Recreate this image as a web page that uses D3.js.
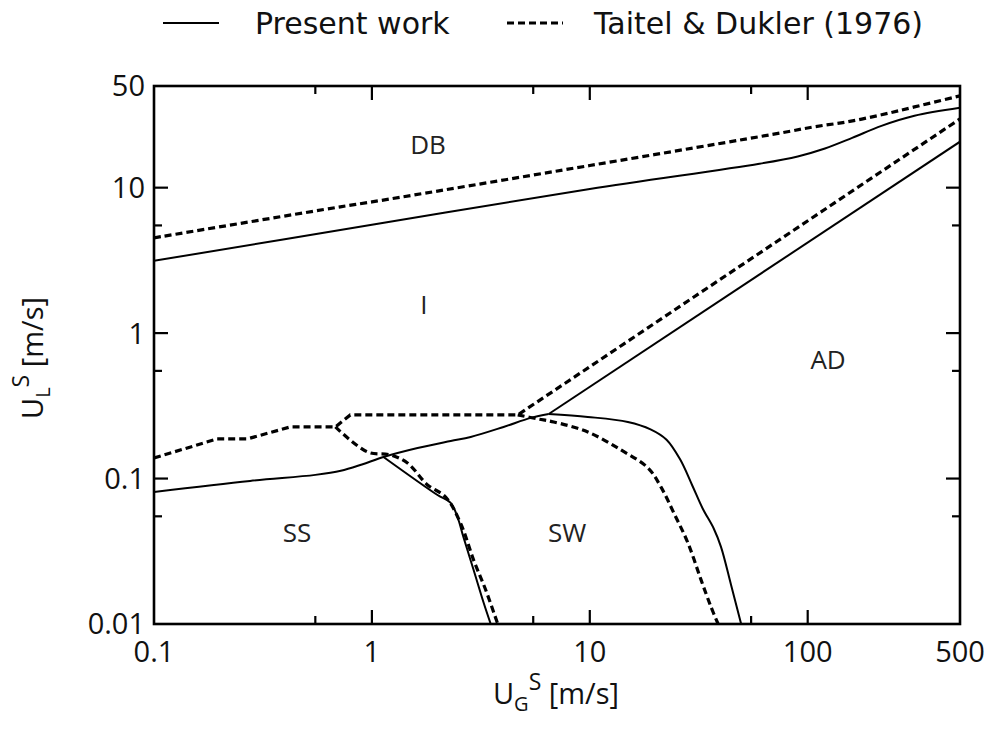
<!DOCTYPE html>
<html>
<head>
<meta charset="utf-8">
<script src="https://cdn.jsdelivr.net/npm/d3@7"></script>
<style>
  html, body { margin: 0; padding: 0; background: #fff; }
  svg { display: block; }
</style>
</head>
<body>
<svg id="chart" width="992" height="731"></svg>
<script>
// Flow-pattern map: superficial gas velocity vs superficial liquid velocity (log-log)

// Axis ticks
const xTickLabels = [0.1, 1, 10, 100, 500];
const xMajorTicks = [1, 10, 100];
const xMinorTicks = [0.55, 5.5, 55];
const yTickLabels = [0.01, 0.1, 1, 10, 50];
const yMajorTicks = [0.1, 1, 10];
const yMinorTicks = [0.055, 0.55, 5.5];

// Present work boundaries  [U_G^S, U_L^S]
const presentDB = [[0.1, 3.14], [1, 5.55], [10, 9.8], [60, 14.6], [90, 16.4], [120, 18.6], [160, 22.0], [218, 26.6], [309, 31.2], [500, 35.4]];
const presentAD = [[6.48, 0.278], [500, 20.7]];
const presentSS = [[0.1, 0.0809], [0.276, 0.0963], [0.55, 0.1060], [0.72, 0.1130], [0.90, 0.1250], [1.13, 0.1408], [1.62, 0.1624], [2.30, 0.1814], [2.84, 0.1932], [4.02, 0.2264], [5.36, 0.2612], [6.48, 0.278]];
const presentSW = [[6.48, 0.278], [9.79, 0.2653], [14.95, 0.245], [19.0, 0.218], [22.5, 0.185], [26.0, 0.135], [29.5, 0.090], [33.0, 0.062], [37.0, 0.0455], [40.0, 0.0339], [44.5, 0.01854], [49.5, 0.01]];
const presentSSSW = [[1.13, 0.1408], [2.0, 0.0771], [2.30, 0.068], [2.47, 0.0544], [2.63, 0.0396], [2.93, 0.0235], [3.26, 0.01394], [3.51, 0.01]];

// Taitel & Dukler (1976) boundaries
const taitelDB = [[0.1, 4.52], [0.716, 7.38], [1, 7.98], [10, 14.2], [75.5, 23.8], [107, 26.2], [153, 28.4], [218, 31.7], [309, 35.9], [500, 42.8]];
const taitelSS = [[0.1, 0.1386], [0.195, 0.1873], [0.268, 0.1873], [0.422, 0.2264], [0.680, 0.2264], [0.796, 0.2738], [4.67, 0.2738], [500, 29.7]];
const taitelSSSW = [[0.680, 0.2264], [0.954, 0.1524], [1.217, 0.1453], [1.456, 0.128], [1.80, 0.0904], [2.18, 0.0747], [2.55, 0.0495], [2.93, 0.0275], [3.33, 0.01713], [3.78, 0.01]];
const taitelSW = [[4.67, 0.2738], [5.77, 0.257], [6.83, 0.245], [9.79, 0.209], [13.9, 0.1573], [18.5, 0.1183], [21.2, 0.0876], [24.3, 0.058], [28.2, 0.0361], [32.4, 0.0201], [36.0, 0.0131], [38.8, 0.01]];

// Region labels
const regions = [
  { name: "DB", x: 1.81, y: 19.7 },
  { name: "I",  x: 1.73, y: 1.56 },
  { name: "AD", x: 124, y: 0.655 },
  { name: "SS", x: 0.453, y: 0.0423 },
  { name: "SW", x: 7.86, y: 0.0423 }
];

const legendItems = [
  { label: "Present work", dashed: false },
  { label: "Taitel & Dukler (1976)", dashed: true }
];

const svg = d3.select("#chart");
const margin = { left: 154, right: 960, top: 86, bottom: 624 };

const x = d3.scaleLog().domain([0.1, 500]).range([margin.left, margin.right]);
const y = d3.scaleLog().domain([0.01, 50]).range([margin.bottom, margin.top]);

const tickFont = "'Open Sans', 'Noto Sans', sans-serif";

// Clip curves to the plotting frame
svg.append("defs").append("clipPath").attr("id", "plotClip")
  .append("rect")
  .attr("x", margin.left).attr("y", margin.top)
  .attr("width", margin.right - margin.left)
  .attr("height", margin.bottom - margin.top);

const smooth = d3.line().x(d => x(d[0])).y(d => y(d[1])).curve(d3.curveCatmullRom.alpha(0.5));
const straight = d3.line().x(d => x(d[0])).y(d => y(d[1]));

const curves = svg.append("g").attr("clip-path", "url(#plotClip)");

function drawSolid(data, lin) {
  curves.append("path").datum(data)
    .attr("d", lin ? straight : smooth)
    .attr("fill", "none").attr("stroke", "#000").attr("stroke-width", 2);
}
function drawDashed(data, lin) {
  curves.append("path").datum(data)
    .attr("d", lin ? straight : smooth)
    .attr("fill", "none").attr("stroke", "#000").attr("stroke-width", 3.2)
    .attr("stroke-dasharray", "7,4");
}

drawSolid(presentDB);
drawSolid(presentAD, true);
drawSolid(presentSS);
drawSolid(presentSW);
drawSolid(presentSSSW);

drawDashed(taitelDB);
drawDashed(taitelSS, true);
drawDashed(taitelSSSW);
drawDashed(taitelSW);

// Frame
svg.append("rect")
  .attr("x", margin.left).attr("y", margin.top)
  .attr("width", margin.right - margin.left)
  .attr("height", margin.bottom - margin.top)
  .attr("fill", "none").attr("stroke", "#000").attr("stroke-width", 2.6);

// Inward ticks on all four sides
const ticks = svg.append("g").attr("stroke", "#000").attr("stroke-width", 2.2);
function xTicks(values, len) {
  values.forEach(v => {
    ticks.append("line").attr("x1", x(v)).attr("x2", x(v))
      .attr("y1", margin.bottom).attr("y2", margin.bottom - len);
    ticks.append("line").attr("x1", x(v)).attr("x2", x(v))
      .attr("y1", margin.top).attr("y2", margin.top + len);
  });
}
function yTicks(values, len) {
  values.forEach(v => {
    ticks.append("line").attr("y1", y(v)).attr("y2", y(v))
      .attr("x1", margin.left).attr("x2", margin.left + len);
    ticks.append("line").attr("y1", y(v)).attr("y2", y(v))
      .attr("x1", margin.right).attr("x2", margin.right - len);
  });
}
xTicks(xMajorTicks, 14);
xTicks(xMinorTicks, 8);
yTicks(yMajorTicks, 14);
yTicks(yMinorTicks, 8);

// Tick labels
svg.append("g").selectAll("text").data(xTickLabels).join("text")
  .attr("x", d => x(d)).attr("y", 662)
  .attr("text-anchor", "middle")
  .attr("font-family", tickFont).attr("font-size", 29).attr("fill", "#111")
  .text(d => d);

svg.append("g").selectAll("text").data(yTickLabels).join("text")
  .attr("x", 145).attr("y", d => y(d))
  .attr("dy", "0.36em")
  .attr("text-anchor", "end")
  .attr("font-family", tickFont).attr("font-size", 29).attr("fill", "#111")
  .text(d => d);

// Axis titles
const xTitle = svg.append("text")
  .attr("x", 556).attr("y", 704)
  .attr("text-anchor", "middle")
  .attr("font-family", tickFont).attr("font-size", 29).attr("fill", "#111");
xTitle.append("tspan").text("U");
xTitle.append("tspan").attr("font-size", 20).attr("dy", 7).text("G");
xTitle.append("tspan").attr("font-size", 23).attr("dy", -21).text("S");
xTitle.append("tspan").attr("dy", 14).text(" [m/s]");

const yTitle = svg.append("text")
  .attr("transform", "translate(43,358) rotate(-90)")
  .attr("text-anchor", "middle")
  .attr("font-family", tickFont).attr("font-size", 29).attr("fill", "#111");
yTitle.append("tspan").text("U");
yTitle.append("tspan").attr("font-size", 20).attr("dy", 7).text("L");
yTitle.append("tspan").attr("font-size", 23).attr("dy", -21).text("S");
yTitle.append("tspan").attr("dy", 14).text(" [m/s]");

// Region labels
svg.append("g").selectAll("text").data(regions).join("text")
  .attr("x", d => x(d.x)).attr("y", d => y(d.y))
  .attr("dy", "0.36em")
  .attr("text-anchor", "middle")
  .attr("font-family", tickFont).attr("font-size", 26).attr("fill", "#222")
  .text(d => d.name);

// Legend
const legendFont = "'DejaVu Sans', sans-serif";
const legendPos = [{ lx: 163, tx: 255 }, { lx: 507, tx: 594 }];
const legend = svg.append("g");
legendItems.forEach((item, i) => {
  const p = legendPos[i];
  legend.append("line")
    .attr("x1", p.lx).attr("x2", p.lx + 56)
    .attr("y1", 23).attr("y2", 23)
    .attr("stroke", "#000")
    .attr("stroke-width", item.dashed ? 3.2 : 2)
    .attr("stroke-dasharray", item.dashed ? "7,4" : null);
  legend.append("text")
    .attr("x", p.tx).attr("y", 34)
    .attr("font-family", legendFont).attr("font-size", 30).attr("fill", "#111")
    .text(item.label);
});
</script>
</body>
</html>
